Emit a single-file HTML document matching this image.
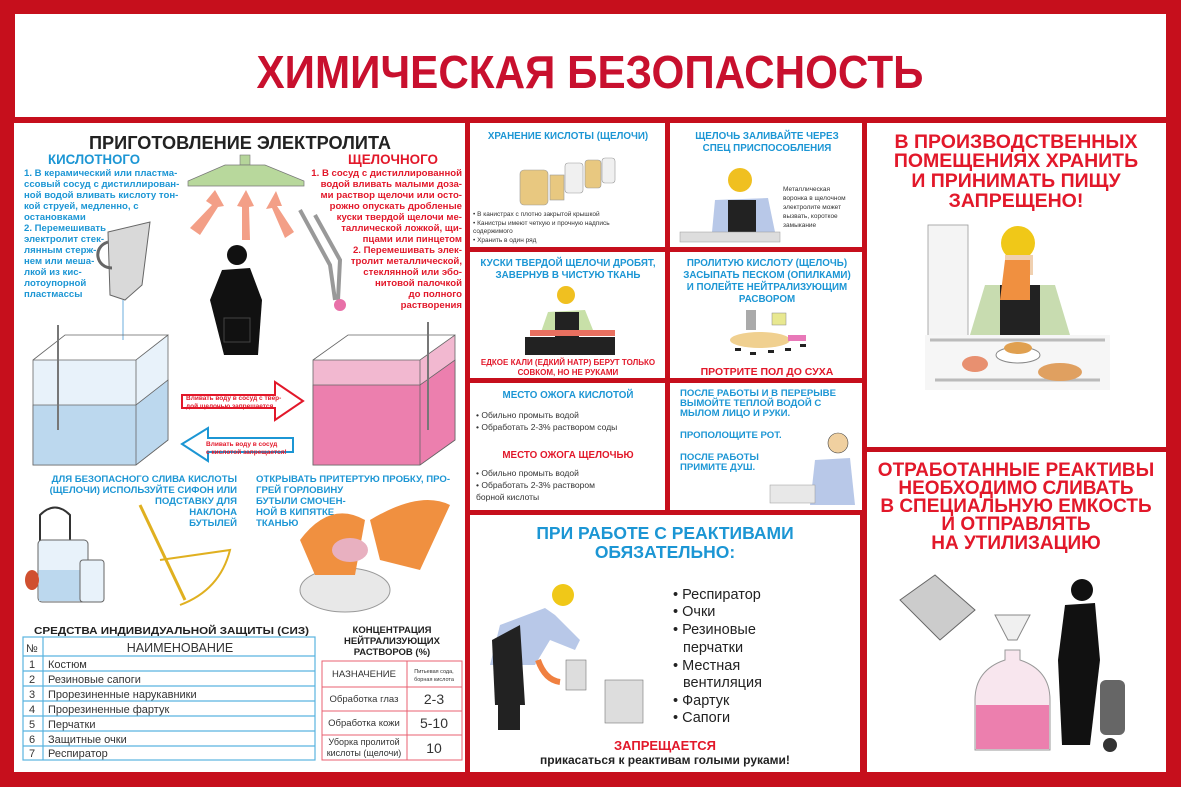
<!DOCTYPE html>
<html><head><meta charset="utf-8"><style>
html,body{margin:0;padding:0;background:#c60f1c;}
svg{display:block;}
text{font-family:"Liberation Sans","DejaVu Sans",sans-serif;}
.b{font-weight:bold;}
.bl{fill:#1c96d4;}
.rd{fill:#e2182a;}
.dk{fill:#222;}
</style></head><body>
<svg width="1181" height="787" viewBox="0 0 1181 787" xmlns="http://www.w3.org/2000/svg">
<rect width="1181" height="787" fill="#c60f1c"/>
<rect x="15" y="14" width="1151" height="103" fill="#fff"/>
<rect x="14" y="123" width="451" height="649" fill="#fff"/>
<rect x="470" y="123" width="195" height="124" fill="#fff"/>
<rect x="670" y="123" width="192" height="124" fill="#fff"/>
<rect x="470" y="252" width="195" height="126" fill="#fff"/>
<rect x="670" y="252" width="192" height="126" fill="#fff"/>
<rect x="470" y="383" width="195" height="127" fill="#fff"/>
<rect x="670" y="383" width="192" height="127" fill="#fff"/>
<rect x="470" y="515" width="390" height="257" fill="#fff"/>
<rect x="867" y="123" width="299" height="324" fill="#fff"/>
<rect x="867" y="452" width="299" height="320" fill="#fff"/>

<text x="590" y="88" text-anchor="middle" class="b" font-size="46" fill="#c8102e" textLength="667" lengthAdjust="spacingAndGlyphs">ХИМИЧЕСКАЯ БЕЗОПАСНОСТЬ</text>

<text x="240" y="149" text-anchor="middle" class="b dk" font-size="18" textLength="302" lengthAdjust="spacingAndGlyphs">ПРИГОТОВЛЕНИЕ ЭЛЕКТРОЛИТА</text>
<text x="48" y="164" class="b bl" font-size="14" textLength="92" lengthAdjust="spacingAndGlyphs">КИСЛОТНОГО</text>
<text x="348" y="164" class="b rd" font-size="14" textLength="90" lengthAdjust="spacingAndGlyphs">ЩЕЛОЧНОГО</text>
<g class="b bl" font-size="9.6">
<text x="24" y="176">1. В керамический или пластма-</text>
<text x="24" y="187">ссовый сосуд с дистиллирован-</text>
<text x="24" y="198">ной водой вливать кислоту тон-</text>
<text x="24" y="209">кой струей, медленно, с</text>
<text x="24" y="220">остановками</text>
<text x="24" y="231">2. Перемешивать</text>
<text x="24" y="242">электролит стек-</text>
<text x="24" y="253">лянным стерж-</text>
<text x="24" y="264">нем или меша-</text>
<text x="24" y="275">лкой из кис-</text>
<text x="24" y="286">лотоупорной</text>
<text x="24" y="297">пластмассы</text>
</g>
<g class="b rd" font-size="9.6" text-anchor="end">
<text x="462" y="176">1. В сосуд с дистиллированной</text>
<text x="462" y="187">водой вливать малыми доза-</text>
<text x="462" y="198">ми раствор щелочи или осто-</text>
<text x="462" y="209">рожно опускать дробленые</text>
<text x="462" y="220">куски твердой щелочи ме-</text>
<text x="462" y="231">таллической ложкой, щи-</text>
<text x="462" y="242">пцами или пинцетом</text>
<text x="462" y="253">2. Перемешивать элек-</text>
<text x="462" y="264">тролит металлической,</text>
<text x="462" y="275">стеклянной или эбо-</text>
<text x="462" y="286">нитовой палочкой</text>
<text x="462" y="297">до полного</text>
<text x="462" y="308">растворения</text>
</g>
<rect x="240" y="155" width="10" height="10" fill="#b5d59a" stroke="#777" stroke-width="0.6"/>
<polygon points="225,165 265,165 304,181 304,186 188,186 188,181" fill="#b8d89c" stroke="#777" stroke-width="0.7"/>
<g fill="#f08060" opacity="0.75">
<polygon points="215,190 224,206 218,207 200,235 190,228 212,205 206,201"/>
<polygon points="246,190 254,206 249,207 250,240 242,240 242,207 237,206"/>
<polygon points="276,191 282,206 277,206 294,232 285,238 272,208 266,209"/>
</g>
<path d="M108,232 L150,222 L142,285 L125,300 L110,295 Z" fill="#d9d9d9" stroke="#666"/>
<path d="M108,242 C92,247 96,268 112,268" fill="none" stroke="#666" stroke-width="3"/>
<line x1="123" y1="300" x2="123" y2="340" stroke="#9cc8e8" stroke-width="1.5"/>
<circle cx="237" cy="255" r="10" fill="#111"/>
<path d="M222,270 L250,268 L262,300 L258,355 L224,355 L210,300 Z" fill="#111"/>
<rect x="224" y="318" width="26" height="24" fill="none" stroke="#444"/>
<path d="M300,210 L330,265 L335,300 M315,215 L340,260 L338,300" fill="none" stroke="#999" stroke-width="4"/>
<circle cx="340" cy="305" r="6" fill="#e870a8"/>
<g stroke="#666" stroke-width="0.8">
<polygon points="33,360 136,360 168,335 168,440 136,465 33,465" fill="#e8f2fa"/>
<polygon points="33,405 136,405 168,380 168,440 136,465 33,465" fill="#bcd8ee"/>
<polyline points="33,360 65,335 168,335" fill="none"/>
<line x1="136" y1="360" x2="136" y2="465"/>
<polygon points="313,360 420,360 455,335 455,440 420,465 313,465" fill="#f2b8d0"/>
<polygon points="313,385 420,385 455,360 455,440 420,465 313,465" fill="#ec7fae"/>
<polyline points="313,360 348,335 455,335" fill="none"/>
<line x1="420" y1="360" x2="420" y2="465"/>
</g>
<line x1="58" y1="325" x2="58" y2="430" stroke="#777" stroke-width="2"/>
<line x1="428" y1="322" x2="428" y2="430" stroke="#777" stroke-width="2"/>
<polygon points="182,395 275,395 275,382 303,401 275,420 275,408 182,408" fill="#fff" stroke="#e2182a" stroke-width="2"/>
<text x="186" y="400" class="b rd" font-size="6.5">Вливать воду в сосуд с твер-</text>
<text x="186" y="408" class="b rd" font-size="6.5">дой щелочью запрешается</text>
<polygon points="182,444 208,428 208,438 293,438 293,452 208,452 208,461" fill="#fff" stroke="#1c96d4" stroke-width="2"/>
<text x="206" y="446" class="b rd" font-size="6.5">Вливать воду в сосуд</text>
<text x="206" y="454" class="b rd" font-size="6.5">с кислотой запрещается!</text>
<g class="b bl" font-size="9.6" text-anchor="end">
<text x="237" y="482">ДЛЯ БЕЗОПАСНОГО СЛИВА КИСЛОТЫ</text>
<text x="237" y="493">(ЩЕЛОЧИ) ИСПОЛЬЗУЙТЕ СИФОН ИЛИ</text>
<text x="237" y="504">ПОДСТАВКУ ДЛЯ</text>
<text x="237" y="515">НАКЛОНА</text>
<text x="237" y="526">БУТЫЛЕЙ</text>
</g>
<g class="b bl" font-size="9.6">
<text x="256" y="482">ОТКРЫВАТЬ ПРИТЕРТУЮ ПРОБКУ, ПРО-</text>
<text x="256" y="493">ГРЕЙ ГОРЛОВИНУ</text>
<text x="256" y="504">БУТЫЛИ СМОЧЕН-</text>
<text x="256" y="515">НОЙ В КИПЯТКЕ</text>
<text x="256" y="526">ТКАНЬЮ</text>
</g>
<path d="M40,560 L40,515 Q55,500 70,515 L70,540" fill="none" stroke="#333" stroke-width="2"/>
<rect x="38" y="540" width="50" height="62" rx="4" fill="#e8f2fa" stroke="#666"/>
<rect x="39" y="570" width="48" height="31" fill="#bcd8ee"/>
<rect x="80" y="560" width="24" height="42" rx="3" fill="#e8f2fa" stroke="#666"/>
<ellipse cx="32" cy="580" rx="7" ry="10" fill="#d05030"/>
<line x1="140" y1="505" x2="185" y2="600" stroke="#e0b020" stroke-width="3"/>
<path d="M160,560 L230,550 Q220,590 180,605" fill="none" stroke="#e0b020" stroke-width="2"/>
<ellipse cx="345" cy="590" rx="45" ry="22" fill="#e8e8e8" stroke="#999"/>
<path d="M300,540 Q330,500 365,520 L355,575 L315,575 Z" fill="#f09040"/>
<path d="M370,520 Q420,490 450,505 L420,570 L380,560 Z" fill="#f09040"/>
<ellipse cx="350" cy="550" rx="18" ry="12" fill="#e8b0c0"/>

<text x="34" y="634" class="b dk" font-size="10.5" textLength="275" lengthAdjust="spacingAndGlyphs">СРЕДСТВА ИНДИВИДУАЛЬНОЙ ЗАЩИТЫ (СИЗ)</text>
<g stroke="#5ab4e0" stroke-width="1.2" fill="none">
<rect x="23" y="637" width="292" height="123"/>
<line x1="43" y1="637" x2="43" y2="760"/>
<line x1="23" y1="656" x2="315" y2="656"/>
<line x1="23" y1="671" x2="315" y2="671"/>
<line x1="23" y1="686" x2="315" y2="686"/>
<line x1="23" y1="701" x2="315" y2="701"/>
<line x1="23" y1="716" x2="315" y2="716"/>
<line x1="23" y1="731" x2="315" y2="731"/>
<line x1="23" y1="746" x2="315" y2="746"/>
</g>
<g font-size="11" fill="#333">
<text x="26" y="652">№</text>
<text x="180" y="652" text-anchor="middle" font-size="12.5">НАИМЕНОВАНИЕ</text>
<text x="29" y="668">1</text><text x="48" y="668">Костюм</text>
<text x="29" y="683">2</text><text x="48" y="683">Резиновые сапоги</text>
<text x="29" y="698">3</text><text x="48" y="698">Прорезиненные нарукавники</text>
<text x="29" y="713">4</text><text x="48" y="713">Прорезиненные фартук</text>
<text x="29" y="728">5</text><text x="48" y="728">Перчатки</text>
<text x="29" y="743">6</text><text x="48" y="743">Защитные очки</text>
<text x="29" y="757">7</text><text x="48" y="757">Респиратор</text>
</g>
<g class="b dk" font-size="9.5" text-anchor="middle">
<text x="392" y="633">КОНЦЕНТРАЦИЯ</text>
<text x="392" y="644">НЕЙТРАЛИЗУЮЩИХ</text>
<text x="392" y="655">РАСТВОРОВ (%)</text>
</g>
<g stroke="#e86070" stroke-width="1" fill="none">
<rect x="322" y="661" width="140" height="99"/>
<line x1="407" y1="661" x2="407" y2="760"/>
<line x1="322" y1="687" x2="462" y2="687"/>
<line x1="322" y1="711" x2="462" y2="711"/>
<line x1="322" y1="735" x2="462" y2="735"/>
</g>
<g font-size="9.5" fill="#333" text-anchor="middle">
<text x="364" y="677">НАЗНАЧЕНИЕ</text>
<text x="434" y="673" font-size="5.5">Питьевая сода,</text>
<text x="434" y="681" font-size="5.5">борная кислота</text>
<text x="364" y="702">Обработка глаз</text>
<text x="364" y="726">Обработка кожи</text>
<text x="364" y="745" font-size="9">Уборка пролитой</text>
<text x="364" y="756" font-size="9">кислоты (щелочи)</text>
<text x="434" y="704" font-size="14">2-3</text>
<text x="434" y="728" font-size="14">5-10</text>
<text x="434" y="753" font-size="14">10</text>
</g>

<text x="568" y="139" text-anchor="middle" class="b bl" font-size="9.8">ХРАНЕНИЕ КИСЛОТЫ (ЩЕЛОЧИ)</text>
<g stroke="#999" stroke-width="0.6">
<rect x="520" y="170" width="28" height="35" rx="4" fill="#e8c880"/>
<rect x="550" y="175" width="14" height="25" fill="#e8c880"/>
<rect x="565" y="163" width="18" height="30" rx="3" fill="#f0f0f0"/>
<rect x="585" y="160" width="16" height="28" rx="3" fill="#e8c880"/>
<rect x="602" y="158" width="13" height="25" rx="3" fill="#f0f0f0"/>
</g>
<g font-size="6.5" fill="#333">
<text x="473" y="216">• В канистрах с плотно закрытой крышкой</text>
<text x="473" y="225">• Канистры имеют четкую и прочную надпись</text>
<text x="473" y="233">содержимого</text>
<text x="473" y="242">• Хранить в один ряд</text>
</g>

<text x="767" y="139" text-anchor="middle" class="b bl" font-size="9.8">ЩЕЛОЧЬ ЗАЛИВАЙТЕ ЧЕРЕЗ</text>
<text x="767" y="151" text-anchor="middle" class="b bl" font-size="9.8">СПЕЦ ПРИСПОСОБЛЕНИЯ</text>
<circle cx="740" cy="180" r="12" fill="#f0c020"/>
<path d="M715,200 L768,198 L775,232 L712,232 Z" fill="#b8c8e8"/>
<rect x="728" y="200" width="28" height="32" fill="#222"/>
<rect x="680" y="232" width="100" height="10" fill="#ddd" stroke="#999" stroke-width="0.5"/>
<g font-size="6.5" fill="#333">
<text x="783" y="191">Металлическая</text>
<text x="783" y="200">воронка в щелочном</text>
<text x="783" y="209">электролите может</text>
<text x="783" y="218">вызвать, короткое</text>
<text x="783" y="227">замыкание</text>
</g>

<text x="568" y="266" text-anchor="middle" class="b bl" font-size="9.8">КУСКИ ТВЕРДОЙ ЩЕЛОЧИ ДРОБЯТ,</text>
<text x="568" y="278" text-anchor="middle" class="b bl" font-size="9.8">ЗАВЕРНУВ В ЧИСТУЮ ТКАНЬ</text>
<circle cx="566" cy="295" r="9" fill="#f0c020"/>
<path d="M548,312 L585,310 L595,335 L540,335 Z" fill="#c8e0a8"/>
<rect x="555" y="312" width="24" height="25" fill="#222"/>
<rect x="530" y="330" width="85" height="6" fill="#e87060"/>
<rect x="525" y="337" width="90" height="18" fill="#222"/>
<text x="568" y="365" text-anchor="middle" class="b rd" font-size="8">ЕДКОЕ КАЛИ (ЕДКИЙ НАТР) БЕРУТ ТОЛЬКО</text>
<text x="568" y="375" text-anchor="middle" class="b rd" font-size="8">СОВКОМ, НО НЕ РУКАМИ</text>

<text x="767" y="266" text-anchor="middle" class="b bl" font-size="9.8">ПРОЛИТУЮ КИСЛОТУ (ЩЕЛОЧЬ)</text>
<text x="767" y="278" text-anchor="middle" class="b bl" font-size="9.8">ЗАСЫПАТЬ ПЕСКОМ (ОПИЛКАМИ)</text>
<text x="767" y="290" text-anchor="middle" class="b bl" font-size="9.8">И ПОЛЕЙТЕ НЕЙТРАЛИЗУЮЩИМ</text>
<text x="767" y="302" text-anchor="middle" class="b bl" font-size="9.8">РАСВОРОМ</text>
<ellipse cx="760" cy="340" rx="30" ry="8" fill="#f0d090"/>
<rect x="746" y="310" width="10" height="20" fill="#aaa"/>
<rect x="772" y="313" width="14" height="12" fill="#e8e890" stroke="#888" stroke-width="0.5"/>
<rect x="788" y="335" width="18" height="6" fill="#e878b8"/>
<g fill="#222"><rect x="735" y="348" width="6" height="3"/><rect x="750" y="352" width="6" height="3"/><rect x="768" y="350" width="6" height="3"/><rect x="785" y="348" width="6" height="3"/><rect x="800" y="344" width="6" height="3"/></g>
<text x="767" y="375" text-anchor="middle" class="b rd" font-size="10.5">ПРОТРИТЕ ПОЛ ДО СУХА</text>

<text x="568" y="398" text-anchor="middle" class="b bl" font-size="9.8">МЕСТО ОЖОГА КИСЛОТОЙ</text>
<g font-size="8.5" fill="#333">
<text x="476" y="418">• Обильно промыть водой</text>
<text x="476" y="430">• Обработать 2-3% раствором соды</text>
</g>
<text x="568" y="458" text-anchor="middle" class="b rd" font-size="9.8">МЕСТО ОЖОГА ЩЕЛОЧЬЮ</text>
<g font-size="8.5" fill="#333">
<text x="476" y="476">• Обильно промыть водой</text>
<text x="476" y="488">• Обработать 2-3% раствором</text>
<text x="476" y="500">борной кислоты</text>
</g>

<g class="b bl" font-size="9.6">
<text x="680" y="396">ПОСЛЕ РАБОТЫ И В ПЕРЕРЫВЕ</text>
<text x="680" y="406">ВЫМОЙТЕ ТЕПЛОЙ ВОДОЙ С</text>
<text x="680" y="416">МЫЛОМ ЛИЦО И РУКИ.</text>
<text x="680" y="438">ПРОПОЛОЩИТЕ РОТ.</text>
<text x="680" y="460">ПОСЛЕ РАБОТЫ</text>
<text x="680" y="470">ПРИМИТЕ ДУШ.</text>
</g>
<circle cx="838" cy="443" r="10" fill="#f0d0a0" stroke="#444" stroke-width="0.6"/>
<path d="M815,460 L850,458 L855,505 L810,505 Z" fill="#b8c8e8"/>
<rect x="770" y="485" width="45" height="18" fill="#e8e8e8" stroke="#999" stroke-width="0.5"/>

<text x="665" y="539" text-anchor="middle" class="b bl" font-size="17.5">ПРИ РАБОТЕ С РЕАКТИВАМИ</text>
<text x="665" y="558" text-anchor="middle" class="b bl" font-size="17.5">ОБЯЗАТЕЛЬНО:</text>
<g font-size="14.5" fill="#222">
<text x="673" y="599">• Респиратор</text>
<text x="673" y="616">• Очки</text>
<text x="673" y="634">• Резиновые</text>
<text x="683" y="652">перчатки</text>
<text x="673" y="670">• Местная</text>
<text x="683" y="687">вентиляция</text>
<text x="673" y="705">• Фартук</text>
<text x="673" y="722">• Сапоги</text>
</g>
<text x="665" y="750" text-anchor="middle" class="b rd" font-size="13">ЗАПРЕЩАЕТСЯ</text>
<text x="665" y="764" text-anchor="middle" class="b dk" font-size="12">прикасаться к реактивам голыми руками!</text>
<circle cx="563" cy="595" r="11" fill="#f0c818"/>
<path d="M545,608 L500,625 L490,665 L535,665 L550,640 L575,650 L580,640 L555,615 Z" fill="#b8c8e8"/>
<path d="M492,640 L520,625 L525,705 L495,705 Z" fill="#222"/>
<rect x="498" y="705" width="22" height="25" fill="#222"/>
<rect x="566" y="660" width="20" height="30" fill="#ddd" stroke="#777" stroke-width="0.6"/>
<rect x="605" y="680" width="38" height="43" fill="#ddd" stroke="#777" stroke-width="0.6"/>
<path d="M538,660 Q545,680 560,682" fill="none" stroke="#f08040" stroke-width="6"/>

<g class="b rd" font-size="19.5" text-anchor="middle">
<text x="1016" y="148">В ПРОИЗВОДСТВЕННЫХ</text>
<text x="1016" y="167">ПОМЕЩЕНИЯХ ХРАНИТЬ</text>
<text x="1016" y="187">И ПРИНИМАТЬ ПИЩУ</text>
<text x="1016" y="207">ЗАПРЕЩЕНО!</text>
</g>
<rect x="928" y="225" width="40" height="120" fill="#f4f4f4" stroke="#999" stroke-width="0.8"/>
<circle cx="1018" cy="243" r="17" fill="#f0c818"/>
<rect x="1005" y="255" width="28" height="20" fill="#f0d0b0"/>
<path d="M985,285 L1055,285 L1070,335 L970,335 Z" fill="#c8dcb0"/>
<rect x="1000" y="285" width="40" height="50" fill="#222"/>
<path d="M1005,260 L1000,300 L1030,300 L1030,260 Z" fill="#f09040"/>
<rect x="925" y="335" width="185" height="55" fill="#f6f6f6"/>
<line x1="930" y1="340" x2="1105" y2="340" stroke="#bbb" stroke-width="3"/>
<line x1="935" y1="380" x2="1100" y2="380" stroke="#bbb" stroke-width="3"/>
<ellipse cx="1018" cy="355" rx="22" ry="8" fill="#fff" stroke="#888"/>
<ellipse cx="1018" cy="348" rx="14" ry="6" fill="#e0a050"/>
<ellipse cx="975" cy="364" rx="13" ry="8" fill="#e89070"/>
<ellipse cx="1060" cy="372" rx="22" ry="9" fill="#e0a060"/>

<g class="b rd" font-size="19" text-anchor="middle">
<text x="1016" y="476">ОТРАБОТАННЫЕ РЕАКТИВЫ</text>
<text x="1016" y="494">НЕОБХОДИМО СЛИВАТЬ</text>
<text x="1016" y="512">В СПЕЦИАЛЬНУЮ ЕМКОСТЬ</text>
<text x="1016" y="530">И ОТПРАВЛЯТЬ</text>
<text x="1016" y="549">НА УТИЛИЗАЦИЮ</text>
</g>
<polygon points="900,600 935,575 975,610 940,640" fill="#ccc" stroke="#666"/>
<polygon points="995,615 1030,615 1017,640 1008,640" fill="#f0f0f0" stroke="#888"/>
<path d="M1005,650 L1020,650 L1020,660 Q1050,670 1050,700 L1050,750 L975,750 L975,700 Q975,670 1005,660 Z" fill="#f8e6ee" stroke="#999"/>
<path d="M976,705 L1049,705 L1049,749 L976,749 Z" fill="#ec7fae"/>
<circle cx="1082" cy="590" r="11" fill="#111"/>
<path d="M1065,605 L1095,603 L1100,660 L1090,745 L1062,745 L1058,660 Z" fill="#111"/>
<rect x="1100" y="680" width="25" height="55" rx="6" fill="#666"/>
<circle cx="1110" cy="745" r="7" fill="#333"/>
</svg>
</body></html>
